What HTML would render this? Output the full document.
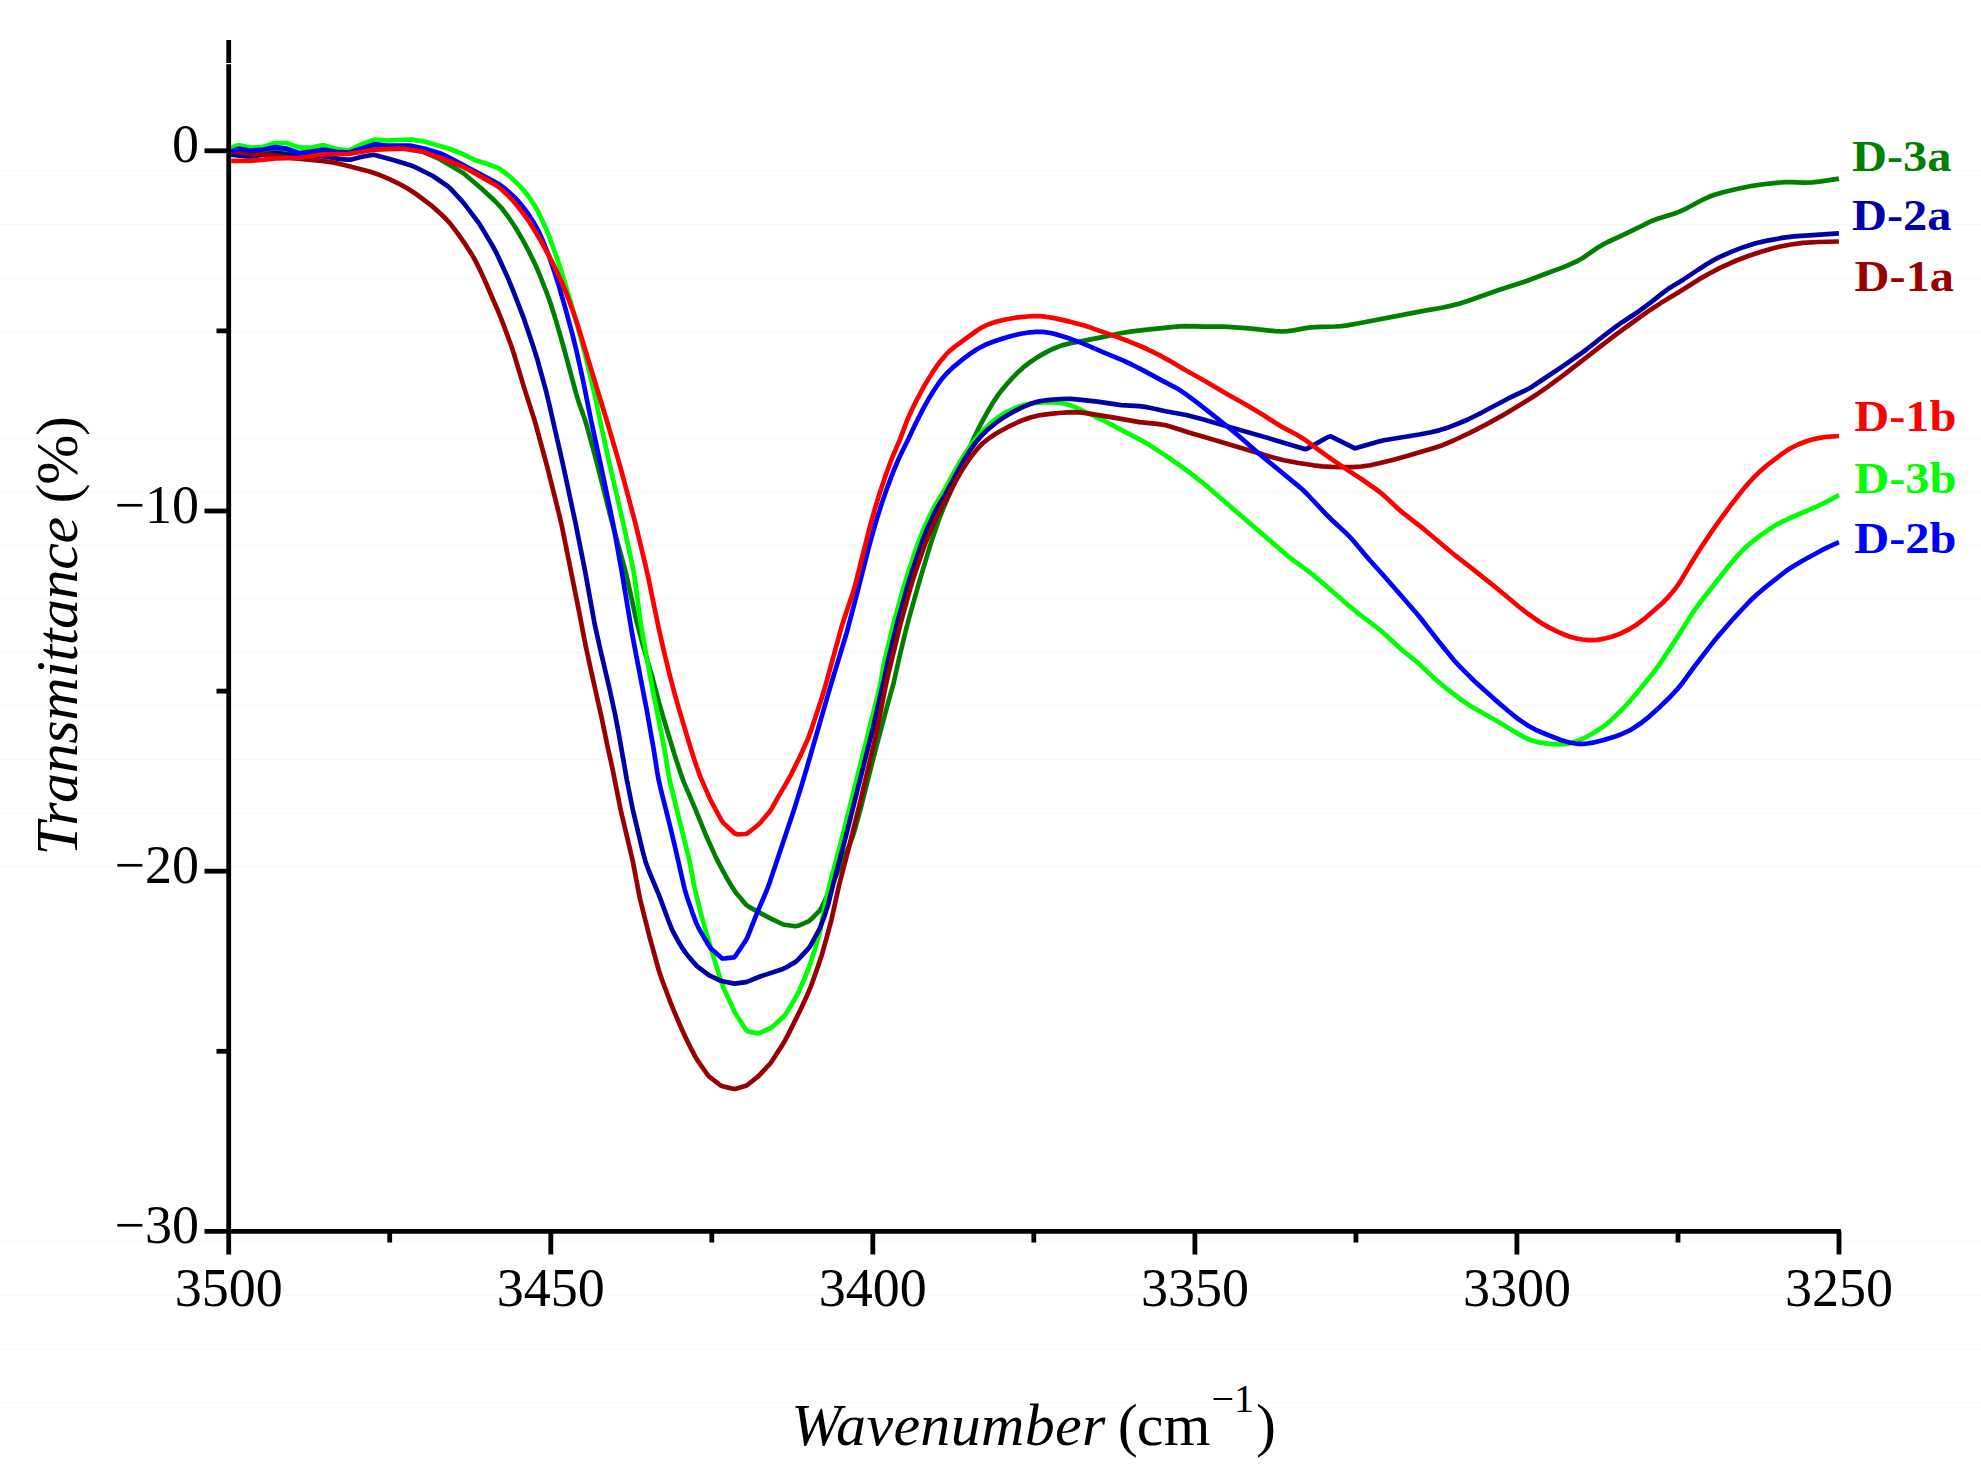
<!DOCTYPE html>
<html lang="en"><head><meta charset="utf-8"><title>FTIR spectra</title>
<style>html,body{margin:0;padding:0;background:#fff;}svg{display:block;}text{font-family:"Liberation Serif","DejaVu Serif",serif;}</style></head><body>
<svg width="1981" height="1480" viewBox="0 0 1981 1480">
<rect width="1981" height="1480" fill="#ffffff"/>
<g stroke="#f7f7f7" stroke-width="1"><line x1="0" y1="171.0" x2="1981" y2="171.0"/><line x1="0" y1="224.5" x2="1981" y2="224.5"/><line x1="0" y1="278.0" x2="1981" y2="278.0"/><line x1="0" y1="331.5" x2="1981" y2="331.5"/><line x1="0" y1="438.5" x2="1981" y2="438.5"/><line x1="0" y1="492.0" x2="1981" y2="492.0"/><line x1="0" y1="545.5" x2="1981" y2="545.5"/><line x1="0" y1="599.0" x2="1981" y2="599.0"/><line x1="0" y1="652.5" x2="1981" y2="652.5"/><line x1="0" y1="706.0" x2="1981" y2="706.0"/><line x1="0" y1="759.5" x2="1981" y2="759.5"/><line x1="0" y1="813.0" x2="1981" y2="813.0"/><line x1="0" y1="866.5" x2="1981" y2="866.5"/><line x1="0" y1="920.0" x2="1981" y2="920.0"/><line x1="0" y1="1241.2" x2="1981" y2="1241.2"/><line x1="0" y1="1295.2" x2="1981" y2="1295.2"/><line x1="0" y1="1349.0" x2="1981" y2="1349.0"/><line x1="0" y1="1402.7" x2="1981" y2="1402.7"/></g>
<polyline fill="none" stroke="#008000" stroke-width="4.7" stroke-linejoin="round" stroke-linecap="butt" points="231.2,149.7 249.0,152.1 252.0,152.2 261.0,151.8 263.9,151.5 272.8,150.0 275.8,149.8 284.8,150.5 287.7,151.0 299.1,154.7 311.1,153.7 322.9,151.8 334.8,153.0 346.8,153.6 349.8,153.5 361.5,150.8 373.3,148.4 376.2,148.2 400.2,147.7 403.2,147.8 420.9,151.3 423.8,152.1 437.5,158.2 440.2,159.5 463.5,173.2 481.7,188.7 494.9,201.0 501.1,207.5 508.4,217.0 515.1,227.0 522.7,239.9 528.4,250.5 535.0,263.9 539.7,274.9 547.4,294.5 550.4,303.0 555.8,320.1 559.2,331.6 564.1,349.0 576.6,395.3 579.3,403.9 584.4,418.0 586.2,423.7 596.5,461.4 612.0,522.4 625.6,571.6 627.6,580.4 636.6,621.4 642.7,644.6 652.1,676.3 658.9,702.4 663.1,716.8 674.4,754.2 680.9,774.1 684.0,782.6 694.6,807.4 705.9,835.2 715.8,857.1 719.8,865.1 725.5,875.7 731.5,886.0 734.8,891.1 736.6,893.5 746.3,904.9 748.7,906.6 751.3,908.1 769.8,918.1 783.3,924.5 795.2,926.3 798.0,925.8 809.1,921.1 811.3,919.1 817.7,912.7 819.7,910.6 821.3,908.1 827.8,894.6 849.4,845.1 852.6,836.7 855.3,828.1 860.8,807.9 876.3,746.8 887.9,703.3 893.6,683.1 899.5,656.7 905.8,630.5 909.6,616.0 919.4,581.3 929.7,546.8 938.3,521.2 943.8,507.2 973.7,438.4 980.3,425.0 989.0,409.2 993.7,401.6 997.0,396.6 1000.5,391.7 1006.3,384.8 1012.2,378.1 1018.6,371.7 1023.0,367.7 1030.1,362.2 1037.6,357.1 1045.4,352.6 1053.4,348.7 1061.8,345.4 1070.5,343.2 1099.9,337.6 1120.5,333.3 1132.3,331.4 1147.2,329.6 1174.1,326.8 1180.0,326.4 1186.0,326.2 1204.0,326.7 1222.0,326.7 1228.0,326.8 1249.0,328.3 1275.8,331.2 1281.7,331.5 1287.7,331.2 1293.6,330.4 1305.4,328.1 1311.3,327.3 1320.3,326.8 1335.3,326.5 1341.2,326.1 1347.2,325.4 1359.0,323.3 1420.9,311.4 1441.6,307.7 1450.4,305.9 1459.1,303.7 1467.7,301.0 1498.8,290.0 1527.4,280.8 1546.9,273.2 1561.0,268.1 1569.4,264.7 1577.5,261.0 1582.7,258.0 1597.5,247.8 1602.6,244.7 1607.9,242.0 1624.3,234.4 1645.8,223.8 1651.2,221.2 1656.8,219.0 1673.9,213.7 1679.5,211.6 1687.6,207.8 1703.5,199.3 1709.0,196.8 1714.6,194.7 1723.2,192.2 1737.8,188.7 1752.5,185.8 1761.4,184.5 1773.3,183.1 1785.3,182.2 1791.2,182.1 1803.2,182.6 1812.1,182.3 1821.1,181.3 1838.9,178.7"/>
<polyline fill="none" stroke="#00ff00" stroke-width="4.7" stroke-linejoin="round" stroke-linecap="butt" points="231.2,147.6 236.8,145.6 239.7,145.4 248.4,147.2 251.4,147.6 260.4,147.1 263.3,146.8 274.7,143.0 286.7,143.0 298.0,147.2 300.9,147.6 309.9,147.6 312.8,147.3 321.6,145.4 324.6,145.4 336.1,148.7 347.9,150.6 350.7,149.7 361.5,144.4 364.3,143.3 372.7,140.1 375.6,139.7 387.5,140.5 408.5,139.6 411.5,139.7 423.4,141.4 426.3,142.0 449.3,148.8 463.3,154.3 474.0,159.7 476.8,160.8 485.5,163.2 493.9,166.4 499.4,168.7 506.6,174.0 511.2,177.8 515.6,181.9 519.9,186.1 523.9,190.5 527.6,195.2 532.7,202.6 535.9,207.7 538.7,212.9 541.3,218.4 546.3,229.3 548.6,234.8 556.7,257.4 561.5,271.6 572.7,309.0 582.3,343.7 586.0,358.2 594.4,393.2 596.4,402.0 601.1,425.5 608.8,460.7 623.0,522.1 633.2,569.0 634.7,577.9 640.2,619.6 642.1,631.4 651.1,681.6 664.5,749.3 668.3,773.0 670.0,781.9 688.7,857.6 690.6,866.4 694.4,887.0 700.8,913.3 704.0,924.8 712.5,953.6 720.5,979.4 723.6,987.9 734.9,1012.4 746.1,1030.1 748.4,1031.6 757.3,1033.1 760.1,1032.8 771.0,1027.8 773.4,1026.0 784.4,1015.8 786.2,1013.4 789.3,1008.3 796.9,995.4 799.5,990.0 804.3,979.0 807.7,970.7 809.8,965.1 815.3,947.9 819.4,933.5 821.3,924.7 826.5,898.2 828.4,889.4 842.9,834.3 878.6,691.6 880.6,682.9 883.0,668.1 884.2,662.2 893.3,624.3 902.9,589.6 906.4,578.1 917.7,543.9 922.1,532.8 929.4,516.3 933.4,508.3 942.7,493.0 954.2,471.9 960.1,461.5 964.9,453.8 970.0,446.4 975.4,439.2 979.3,434.7 983.4,430.3 989.8,424.1 994.4,420.2 999.2,416.6 1004.2,413.4 1009.5,410.6 1014.9,408.1 1020.5,406.0 1026.3,404.4 1035.2,403.0 1044.1,402.3 1053.1,402.3 1059.1,402.7 1064.9,403.7 1070.6,405.4 1076.1,407.7 1103.3,420.4 1124.5,431.6 1140.5,439.9 1148.3,444.3 1163.4,454.1 1178.2,464.3 1190.4,473.1 1202.2,482.3 1288.7,556.7 1293.4,560.4 1305.5,569.2 1312.7,574.6 1326.5,586.2 1349.1,605.9 1360.8,615.3 1377.5,628.0 1382.1,631.8 1402.0,650.0 1418.4,663.2 1435.8,679.6 1445.0,687.3 1456.9,696.5 1464.1,701.8 1471.7,706.7 1497.8,721.5 1515.7,732.4 1523.5,736.9 1528.9,739.4 1534.5,741.3 1540.3,742.6 1549.2,743.9 1558.2,744.4 1564.1,744.2 1570.0,743.3 1575.7,741.6 1583.9,738.2 1591.8,734.0 1602.0,727.6 1604.4,725.9 1609.0,722.1 1619.9,711.8 1628.1,703.0 1637.9,691.7 1654.9,670.7 1660.2,663.4 1675.0,640.9 1691.0,615.5 1696.0,608.0 1703.2,598.5 1727.3,567.8 1736.9,556.3 1743.1,549.8 1749.8,543.7 1759.2,536.3 1769.0,529.4 1776.6,524.6 1781.9,521.8 1790.1,518.0 1812.1,508.6 1820.3,504.9 1828.4,500.9 1838.9,495.1"/>
<polyline fill="none" stroke="#0000a8" stroke-width="4.7" stroke-linejoin="round" stroke-linecap="butt" points="231.2,154.7 249.1,156.6 252.0,156.5 263.9,154.6 272.8,153.4 275.8,153.2 287.7,154.5 299.6,156.2 302.6,156.3 314.6,155.8 326.6,156.7 338.4,158.9 347.4,159.6 350.3,159.7 362.0,156.8 373.8,154.8 394.1,160.3 411.3,165.5 414.1,166.6 432.9,176.0 447.8,186.3 450.0,188.2 462.3,201.4 464.2,203.7 478.7,222.8 481.9,227.9 492.6,245.9 496.9,253.9 506.9,275.7 512.7,289.6 523.5,317.6 533.1,346.0 537.6,360.3 545.6,389.3 549.1,403.8 562.5,462.4 575.1,521.1 585.1,571.2 594.7,624.3 599.9,647.8 609.5,688.7 615.2,715.1 618.6,732.8 626.9,780.1 632.8,809.6 642.5,850.5 645.6,862.0 648.7,870.5 659.1,895.4 668.5,920.7 671.8,929.1 674.5,934.4 678.9,942.3 681.9,947.4 685.3,952.4 689.0,957.1 696.9,966.1 708.8,975.2 719.7,980.3 722.5,981.3 734.3,983.6 746.2,982.1 760.1,976.5 782.9,968.9 785.6,967.7 796.0,961.6 798.1,959.6 808.3,948.6 810.2,946.2 818.8,930.4 820.1,927.7 824.3,916.5 828.0,905.1 833.1,884.7 846.1,835.3 873.1,727.6 879.0,701.2 883.8,680.7 887.4,663.1 897.3,622.3 908.7,581.8 912.4,570.4 922.0,541.9 926.4,530.8 935.1,511.7 938.0,506.5 944.3,496.3 958.4,469.9 964.4,459.5 969.1,451.8 972.5,446.8 976.1,442.0 979.9,437.5 984.1,433.1 988.4,429.0 993.0,425.2 997.8,421.5 1002.7,418.1 1010.4,413.4 1021.0,407.9 1029.3,404.3 1034.9,402.4 1040.7,401.0 1049.6,399.9 1061.6,399.0 1070.6,398.9 1076.5,399.3 1097.4,401.6 1121.2,405.1 1139.1,406.2 1145.1,406.9 1150.9,408.0 1165.6,411.3 1186.2,415.0 1200.7,418.8 1272.9,439.4 1304.4,449.1 1307.2,448.6 1328.1,437.0 1330.8,436.4 1355.0,448.3 1357.8,447.6 1378.0,441.7 1383.8,440.3 1419.3,434.5 1431.1,432.3 1439.8,430.1 1448.4,427.4 1459.6,423.0 1467.9,419.5 1481.3,412.8 1507.8,398.7 1526.8,389.7 1532.0,386.8 1546.9,376.7 1564.4,365.1 1579.2,354.8 1586.4,349.5 1602.9,336.5 1614.9,327.4 1622.2,322.2 1634.8,314.0 1639.7,310.6 1651.8,301.6 1663.5,292.3 1668.3,288.8 1683.6,279.4 1698.6,269.4 1706.2,264.6 1713.9,260.0 1719.3,257.2 1733.0,251.1 1744.2,246.9 1755.6,243.2 1767.3,240.6 1782.1,237.9 1793.9,236.3 1838.9,233.4"/>
<polyline fill="none" stroke="#990000" stroke-width="4.7" stroke-linejoin="round" stroke-linecap="butt" points="231.2,151.7 249.1,153.6 270.0,154.7 290.8,157.8 323.7,161.1 332.6,162.4 344.3,165.0 370.4,171.8 378.9,174.7 390.0,179.3 398.1,183.3 406.0,187.6 411.1,190.7 416.1,194.0 430.5,204.8 435.1,208.7 441.7,214.8 446.0,219.0 450.0,223.4 457.3,232.9 465.9,245.2 472.3,255.3 475.3,260.5 479.3,268.6 485.6,282.2 497.5,309.7 503.1,323.7 511.4,346.2 514.2,354.8 523.7,386.4 534.7,420.7 547.3,467.1 559.0,513.7 561.7,525.3 578.9,610.7 585.7,646.1 590.8,669.6 602.0,719.4 607.4,745.8 612.0,766.3 620.8,810.5 632.6,860.2 639.9,898.5 649.4,936.3 659.0,971.0 661.9,979.6 670.4,1002.1 673.7,1010.4 680.8,1027.0 685.8,1037.9 691.1,1048.7 695.3,1056.6 698.4,1061.7 707.0,1074.0 708.9,1076.3 720.7,1085.5 723.5,1086.5 732.3,1088.6 735.2,1088.9 746.7,1085.5 758.5,1076.2 770.7,1063.0 782.1,1045.4 785.2,1040.2 788.0,1034.9 800.0,1010.7 807.5,994.4 811.0,986.1 816.1,971.9 821.8,954.9 825.9,940.4 831.4,920.1 839.1,885.0 848.2,850.1 859.8,803.5 873.7,745.1 876.8,730.4 885.6,686.2 888.2,674.5 900.2,624.9 909.8,590.2 913.2,578.7 921.9,553.1 925.9,541.8 935.5,519.7 940.8,509.0 946.6,498.5 956.4,479.9 960.9,472.1 965.7,464.5 970.8,457.1 976.4,450.0 980.4,445.6 982.5,443.5 987.1,439.7 994.5,434.5 999.6,431.5 1007.5,427.2 1018.3,422.0 1023.9,419.7 1029.5,417.7 1038.2,415.5 1044.1,414.6 1050.1,413.8 1059.1,413.0 1068.0,412.4 1074.0,412.2 1080.0,412.4 1085.9,413.1 1115.6,417.9 1139.2,422.1 1157.1,423.9 1165.9,425.3 1171.7,426.9 1188.8,432.6 1206.1,437.6 1272.3,457.3 1283.9,460.2 1298.6,463.0 1313.5,465.3 1322.4,466.3 1331.4,466.9 1343.4,467.2 1352.4,467.1 1361.4,466.5 1370.2,465.2 1379.0,463.3 1393.6,459.7 1405.2,456.6 1434.0,448.0 1442.5,445.2 1453.6,440.5 1469.8,432.8 1485.9,424.6 1501.7,415.9 1524.8,402.0 1537.4,393.9 1547.3,387.1 1564.2,374.6 1602.1,345.1 1616.5,334.2 1635.9,320.0 1650.6,309.7 1660.7,303.1 1678.7,292.3 1698.9,279.4 1709.4,273.5 1720.0,267.9 1736.4,260.5 1747.6,256.2 1761.9,251.5 1770.5,249.0 1779.2,246.7 1791.0,244.5 1802.9,242.9 1817.9,242.0 1838.9,241.5"/>
<polyline fill="none" stroke="#0000ff" stroke-width="4.7" stroke-linejoin="round" stroke-linecap="butt" points="231.2,151.7 236.7,149.4 239.5,148.9 248.4,150.3 251.4,150.6 263.3,149.5 275.0,147.1 286.9,148.7 298.2,152.8 301.1,152.9 310.1,151.8 321.9,149.9 324.9,149.9 336.7,151.8 348.7,152.7 374.3,144.2 386.2,145.6 410.2,145.6 424.9,148.7 442.1,154.0 444.8,155.3 463.4,165.0 481.9,175.1 492.5,180.6 497.7,183.5 500.2,185.1 505.0,188.7 509.5,192.6 513.9,196.7 518.0,201.1 521.9,205.6 525.6,210.3 529.0,215.2 533.9,222.8 538.3,230.6 543.2,241.5 548.8,255.5 554.6,272.5 559.2,286.8 565.8,309.9 572.8,335.9 576.4,350.5 582.9,379.8 591.2,421.0 601.4,467.9 613.1,523.7 621.6,570.9 632.0,633.0 635.9,653.7 646.7,709.7 653.5,748.1 657.2,771.8 658.8,780.6 660.8,789.4 669.6,824.3 675.2,847.7 684.5,888.6 687.1,897.2 693.0,914.2 696.1,922.6 698.6,928.1 707.6,943.6 710.9,948.6 722.2,958.5 725.1,958.4 734.0,957.4 735.9,955.3 745.9,940.3 747.3,937.7 757.2,912.6 766.7,890.5 769.8,882.1 793.6,811.0 800.8,788.1 806.0,770.8 831.0,684.4 846.7,632.7 857.4,592.1 868.5,548.5 873.3,531.1 877.5,516.7 882.1,502.4 887.0,488.3 892.3,474.2 898.0,460.3 901.8,452.2 908.5,438.8 914.8,425.2 923.0,409.1 928.8,398.7 933.5,391.0 938.5,383.5 942.1,378.7 945.9,374.2 952.4,367.9 961.6,360.2 968.7,354.8 976.2,349.8 981.4,346.8 986.7,344.2 992.3,342.0 1003.7,338.2 1012.3,335.7 1021.1,333.7 1029.9,332.3 1035.9,331.8 1041.9,331.9 1044.8,332.1 1050.7,333.0 1056.5,334.4 1068.0,338.0 1082.1,343.1 1104.1,352.6 1123.5,360.7 1131.6,364.5 1142.3,369.9 1160.8,379.9 1174.1,386.8 1179.3,389.8 1184.3,393.1 1193.9,400.2 1205.8,409.3 1231.6,429.9 1238.5,435.7 1256.5,451.6 1298.2,485.9 1302.7,489.8 1307.0,494.0 1327.6,515.8 1331.9,520.0 1345.1,532.2 1351.4,538.6 1368.9,559.2 1384.9,577.0 1416.5,613.2 1422.2,620.2 1438.7,641.5 1453.8,660.1 1459.9,666.7 1468.4,675.2 1474.8,681.5 1481.5,687.6 1494.9,699.6 1510.9,713.2 1517.9,718.8 1527.8,725.5 1535.7,729.8 1546.7,734.5 1560.7,740.0 1569.3,742.5 1575.1,743.5 1578.1,743.8 1584.0,743.8 1587.0,743.5 1592.9,742.7 1598.7,741.3 1604.5,739.8 1615.9,736.2 1621.6,734.1 1627.0,731.7 1629.7,730.4 1634.8,727.3 1642.2,722.2 1649.2,716.6 1658.1,708.6 1671.0,696.0 1677.1,689.4 1682.8,682.4 1695.2,665.5 1704.3,653.6 1711.7,644.1 1717.4,637.1 1729.1,623.5 1737.1,614.6 1749.5,601.5 1756.0,595.3 1762.8,589.4 1781.6,574.5 1786.3,570.8 1791.3,567.5 1801.6,561.3 1820.0,551.2 1828.0,547.2 1838.9,542.2"/>
<polyline fill="none" stroke="#ff0000" stroke-width="4.7" stroke-linejoin="round" stroke-linecap="butt" points="231.2,160.8 249.2,160.8 261.1,159.9 276.1,158.4 300.1,157.8 323.8,154.3 347.9,153.8 350.9,153.5 374.6,149.7 401.6,148.7 404.5,149.0 422.4,151.6 442.2,158.5 461.8,166.3 464.5,167.6 472.4,171.9 493.3,183.6 498.3,186.9 500.7,188.7 507.3,194.7 511.5,199.0 515.4,203.5 524.7,215.3 529.9,222.7 539.2,238.1 549.4,256.5 554.8,267.2 562.3,283.6 565.8,291.9 574.1,314.4 577.9,325.8 605.9,417.7 617.8,458.1 622.6,475.4 635.0,521.8 645.6,565.6 648.2,577.3 658.5,627.3 663.8,650.8 670.2,677.0 674.8,694.4 678.9,708.9 691.0,749.2 696.5,766.3 700.7,777.6 710.3,799.6 714.5,807.5 721.7,820.7 723.5,823.1 734.5,833.3 737.1,834.3 746.1,834.0 748.6,832.5 757.9,825.0 760.1,822.9 769.8,811.5 771.5,809.0 778.8,795.9 786.4,783.0 790.8,775.1 800.1,756.3 807.5,739.9 811.7,728.6 822.0,697.2 826.2,682.8 841.3,627.8 844.0,619.2 853.5,590.7 855.9,582.1 869.9,526.7 874.7,509.4 880.0,492.2 886.7,472.2 891.9,458.2 900.2,438.9 907.6,419.2 911.3,411.0 915.2,402.9 923.6,387.0 931.4,374.1 936.4,366.6 939.9,361.8 945.7,354.9 949.9,350.7 954.5,346.9 976.3,331.0 981.3,327.8 983.9,326.4 986.6,325.1 992.2,323.0 997.9,321.2 1006.7,319.2 1015.5,317.7 1027.5,316.5 1033.5,316.1 1039.4,316.2 1045.4,316.7 1054.3,318.1 1068.9,321.4 1083.4,325.3 1092.0,328.1 1117.5,337.1 1128.7,341.3 1142.6,347.0 1150.7,350.8 1161.4,356.2 1169.3,360.6 1184.8,369.8 1205.8,381.5 1226.5,393.7 1247.4,405.5 1262.8,414.8 1280.5,426.1 1296.4,434.5 1304.1,439.2 1321.0,451.6 1330.8,458.6 1343.2,467.1 1363.2,480.3 1373.1,487.2 1380.3,492.5 1384.9,496.4 1398.1,508.7 1402.6,512.6 1423.9,529.2 1456.1,556.2 1470.3,567.2 1493.8,585.9 1503.1,593.5 1519.2,607.0 1528.7,614.3 1538.6,621.2 1543.6,624.4 1548.9,627.4 1556.9,631.4 1565.1,635.0 1570.8,636.9 1576.6,638.5 1582.4,639.5 1588.4,640.1 1591.4,640.1 1597.3,639.8 1600.3,639.4 1606.1,638.3 1611.9,636.7 1620.3,633.6 1628.4,629.7 1636.0,625.0 1643.3,619.7 1663.4,602.2 1667.5,597.9 1675.2,588.8 1680.4,581.4 1692.7,560.8 1702.3,545.6 1710.6,533.1 1719.2,520.8 1730.0,506.3 1744.8,487.4 1752.8,478.5 1759.2,472.1 1768.2,464.3 1782.6,453.4 1790.1,448.5 1798.1,444.5 1806.5,441.3 1812.2,439.5 1818.1,438.1 1826.9,436.8 1838.9,436.0"/>
<g stroke="#000" stroke-width="4.8" fill="none">
<line x1="228.7" y1="40" x2="228.7" y2="1233.8000000000002"/>
<line x1="204.5" y1="1231.4" x2="1840.9" y2="1231.4"/>
<line x1="204.5" y1="150.8" x2="228.7" y2="150.8"/>
<line x1="204.5" y1="511.0" x2="228.7" y2="511.0"/>
<line x1="204.5" y1="871.2" x2="228.7" y2="871.2"/>
<line x1="216.5" y1="330.9" x2="228.7" y2="330.9"/>
<line x1="216.5" y1="691.1" x2="228.7" y2="691.1"/>
<line x1="216.5" y1="1051.3" x2="228.7" y2="1051.3"/>
<line x1="228.7" y1="1231.4" x2="228.7" y2="1254.5"/>
<line x1="550.8" y1="1231.4" x2="550.8" y2="1254.5"/>
<line x1="872.8" y1="1231.4" x2="872.8" y2="1254.5"/>
<line x1="1194.9" y1="1231.4" x2="1194.9" y2="1254.5"/>
<line x1="1516.9" y1="1231.4" x2="1516.9" y2="1254.5"/>
<line x1="1839.0" y1="1231.4" x2="1839.0" y2="1254.5"/>
<line x1="389.7" y1="1231.4" x2="389.7" y2="1242.5"/>
<line x1="711.8" y1="1231.4" x2="711.8" y2="1242.5"/>
<line x1="1033.8" y1="1231.4" x2="1033.8" y2="1242.5"/>
<line x1="1355.9" y1="1231.4" x2="1355.9" y2="1242.5"/>
<line x1="1678.0" y1="1231.4" x2="1678.0" y2="1242.5"/>
</g>
<rect x="225.7" y="63" width="6" height="1.2" fill="#fff"/>
<g font-size="54" fill="#000" letter-spacing="0">
<text x="228.7" y="1305.8" text-anchor="middle">3500</text>
<text x="550.8" y="1305.8" text-anchor="middle">3450</text>
<text x="872.8" y="1305.8" text-anchor="middle">3400</text>
<text x="1194.9" y="1305.8" text-anchor="middle">3350</text>
<text x="1516.9" y="1305.8" text-anchor="middle">3300</text>
<text x="1839.0" y="1305.8" text-anchor="middle">3250</text>
<text x="199" y="162.4" text-anchor="end">0</text>
<text x="199" y="522.6" text-anchor="end">−10</text>
<text x="199" y="882.8" text-anchor="end">−20</text>
<text x="199" y="1243.0" text-anchor="end">−30</text>
</g>
<text x="791.3" y="1445" font-size="60" fill="#000"><tspan font-style="italic" letter-spacing="0.33">Wavenumber</tspan> <tspan dx="-3">(</tspan><tspan dx="-1">c</tspan><tspan dx="0.5">m</tspan><tspan font-size="40" dy="-33" dx="1">−1</tspan><tspan dy="33" dx="2">)</tspan></text>
<text transform="translate(77,855.5) rotate(-90)" font-size="60" fill="#000"><tspan font-style="italic" letter-spacing="-0.4">Transmittance</tspan><tspan letter-spacing="-1.25"> (%)</tspan></text>
<g font-size="44" font-weight="bold">
<text transform="translate(1852,170.8) scale(1.1,1)" fill="#008000">D-3a</text>
<text transform="translate(1852,229.7) scale(1.1,1)" fill="#0000a8">D-2a</text>
<text transform="translate(1854.6,291.3) scale(1.1,1)" fill="#990000">D-1a</text>
<text transform="translate(1854.2,431) scale(1.1,1)" fill="#ff0000">D-1b</text>
<text transform="translate(1854.2,493) scale(1.1,1)" fill="#00ff00">D-3b</text>
<text transform="translate(1854.2,552.7) scale(1.1,1)" fill="#0000ff">D-2b</text>
</g>
</svg></body></html>
